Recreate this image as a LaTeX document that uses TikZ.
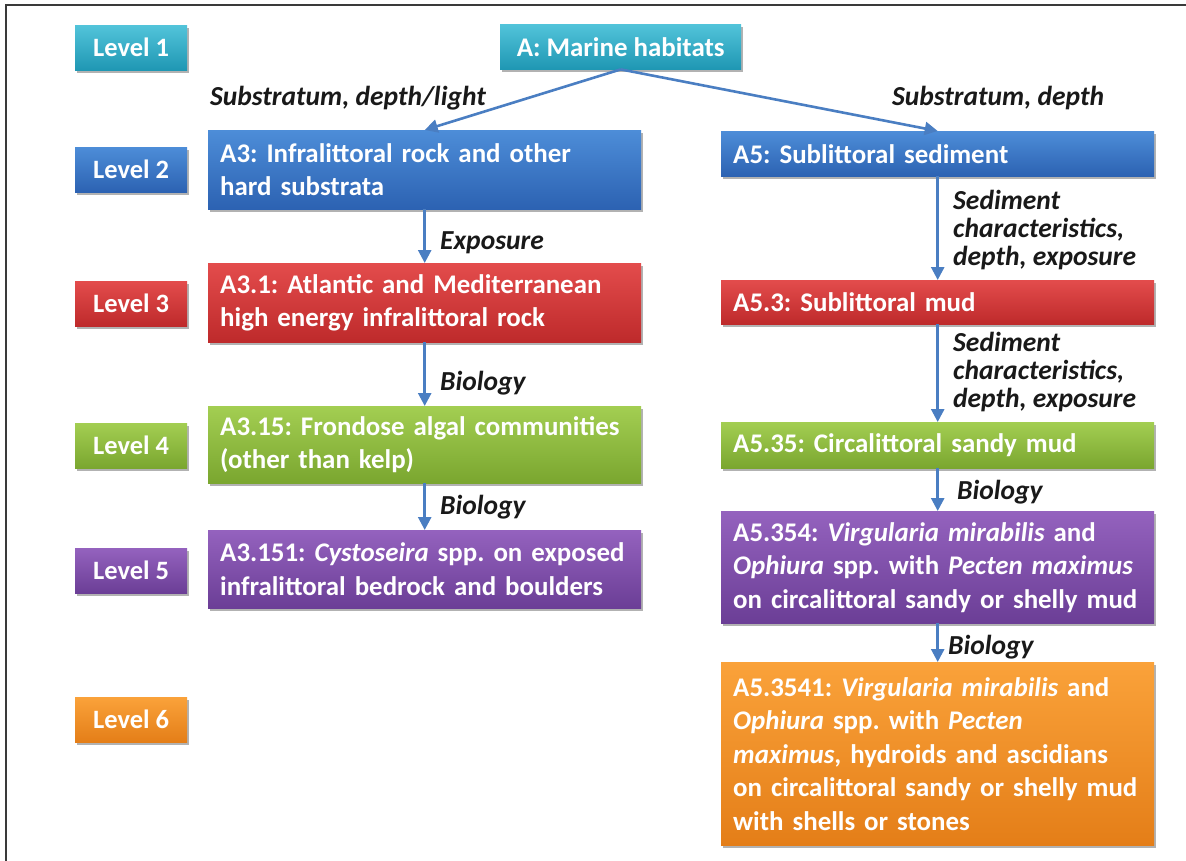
\documentclass[tikz,border=0pt]{standalone}
\usepackage{fontspec}
\setmainfont{Carlito}
\usetikzlibrary{arrows.meta,shadows}
\frenchspacing

\definecolor{tealT}{HTML}{52C4DA}
\definecolor{tealB}{HTML}{1F97B3}
\definecolor{blueT}{HTML}{4D8DD8}
\definecolor{blueB}{HTML}{2C62B2}
\definecolor{redT}{HTML}{E34C4C}
\definecolor{redB}{HTML}{BE2A2B}
\definecolor{greenT}{HTML}{A3CE52}
\definecolor{greenB}{HTML}{7AA62F}
\definecolor{purpleT}{HTML}{9462BE}
\definecolor{purpleB}{HTML}{6B3E96}
\definecolor{orangeT}{HTML}{FAA23A}
\definecolor{orangeB}{HTML}{E47E18}
\definecolor{arrowblue}{HTML}{4A7EC2}
\definecolor{framegray}{HTML}{3A3A3A}

\tikzset{
  base/.style={rectangle, draw=none, text=white, anchor=north west,
    inner xsep=12pt, inner ysep=0pt,
    drop shadow={shadow xshift=2pt, shadow yshift=-3pt, opacity=0.3, fill=black}},
  lvl/.style={base, minimum width=112pt, minimum height=45pt, inner xsep=0pt,
    align=center, font=\fontsize{26.5}{30}\selectfont\bfseries},
  hab/.style={base, text width=409pt, minimum height=#1, align=left,
    font=\fontsize{26.9}{33.5}\selectfont\bfseries},
  teal/.style={top color=tealT, bottom color=tealB},
  blue/.style={top color=blueT, bottom color=blueB},
  red/.style={top color=redT, bottom color=redB},
  green/.style={top color=greenT, bottom color=greenB},
  purple/.style={top color=purpleT, bottom color=purpleB},
  orange/.style={top color=orangeT, bottom color=orangeB},
  crit/.style={anchor=west, inner sep=0pt, align=left, text=black!90,
    font=\fontsize{27.5}{28}\selectfont\bfseries\itshape},
  link/.style={draw=arrowblue, line width=2.6pt,
    -{Triangle[length=13pt,width=13pt]}},
}

\begin{document}
\begin{tikzpicture}[x=1pt, y=-1pt]
\useasboundingbox (0,0) rectangle (1186,861);
\fill[white] (0,0) rectangle (1186,861);
% frame on top and left
\draw[framegray, line width=2pt] (5.5,861) -- (5.5,5.5) -- (1186,5.5);

% level legend
\node[lvl, teal]   (L1) at (75,25)  {Level 1};
\node[lvl, blue]   (L2) at (75,147) {Level 2};
\node[lvl, red]    (L3) at (75,281) {Level 3};
\node[lvl, green]  (L4) at (75,423) {Level 4};
\node[lvl, purple] (L5) at (75,548) {Level 5};
\node[lvl, orange] (L6) at (75,697) {Level 6};

% root
\node[base, teal, minimum width=241pt, minimum height=45pt, inner xsep=0pt,
  font=\fontsize{26.9}{33.5}\selectfont\bfseries] (A) at (500,24) {A: Marine habitats};

% left branch
\node[hab=79pt, blue]   (A3)    at (208,130) {A3: Infralittoral rock and other\\hard substrata};
\node[hab=79pt, red]    (A31)   at (208,263) {A3.1: Atlantic and Mediterranean\\high energy infralittoral rock};
\node[hab=77pt, green]  (A315)  at (208,406) {A3.15: Frondose algal communities\\(other than kelp)};
\node[hab=78pt, purple] (A3151) at (208,530) {A3.151: \textit{Cystoseira} spp. on exposed\\infralittoral bedrock and boulders};

% right branch
\node[hab=45pt, blue]   (A5)    at (721,131) {A5: Sublittoral sediment};
\node[hab=44pt, red]    (A53)   at (721,280) {A5.3: Sublittoral mud};
\node[hab=46pt, green]  (A535)  at (721,422) {A5.35: Circalittoral sandy mud};
\node[hab=112pt, purple] (A5354) at (721,511) {A5.354: \textit{Virgularia mirabilis} and\\\textit{Ophiura} spp. with \textit{Pecten maximus}\\on circalittoral sandy or shelly mud};
\node[hab=183pt, orange] (A53541) at (721,662) {A5.3541: \textit{Virgularia mirabilis} and\\\textit{Ophiura} spp. with \textit{Pecten}\\\textit{maximus}, hydroids and ascidians\\on circalittoral sandy or shelly mud\\with shells or stones};

% connectors
\draw[link] (A.south) -- (A3.north);
\draw[link] (A.south) -- (A5.north);
\draw[link] (A3.south) -- (A31.north);
\draw[link] (A31.south) -- (A315.north);
\draw[link] (A315.south) -- (A3151.north);
\draw[link] (A5.south) -- (A53.north);
\draw[link] (A53.south) -- (A535.north);
\draw[link] (A535.south) -- (A5354.north);
\draw[link] (A5354.south) -- (A53541.north);

% classification criteria
\node[crit] (c1) at (210,98)  {Substratum, depth/light};
\node[crit] (c2) at (892,98)  {Substratum, depth};
\node[crit] (c3) at (440,243) {Exposure};
\node[crit] (c4) at (440,383) {Biology};
\node[crit] (c5) at (440,507) {Biology};
\node[crit] (c6) at (953,230) {Sediment\\characteristics,\\depth, exposure};
\node[crit] (c7) at (953,372) {Sediment\\characteristics,\\depth, exposure};
\node[crit] (c8) at (957,492) {Biology};
\node[crit] (c9) at (948,647) {Biology};
\end{tikzpicture}
\end{document}
